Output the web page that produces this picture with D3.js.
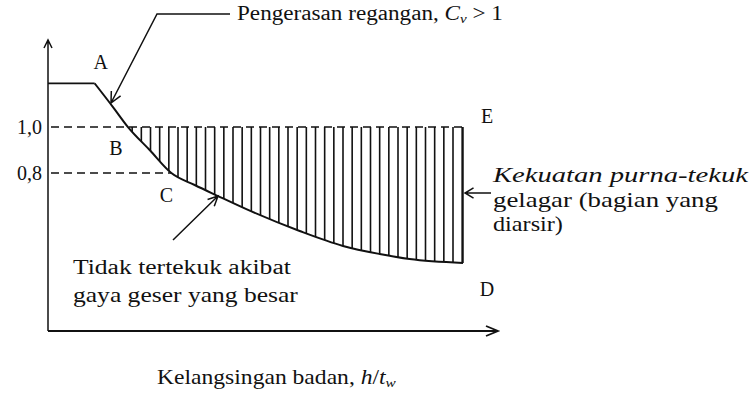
<!DOCTYPE html>
<html>
<head>
<meta charset="utf-8">
<script src="https://cdn.jsdelivr.net/npm/d3@7/dist/d3.min.js"></script>
<style>
  html, body { margin: 0; padding: 0; background: #fff; }
  svg { display: block; }
</style>
</head>
<body>
<svg id="chart" width="750" height="396" font-family="Liberation Serif"></svg>
<script>
// Shear strength vs. web slenderness (h/tw)
const plateauX = [0, 28];
const plateauY = [1.19, 1.19];
const curveX = [28, 39, 48, 61, 74, 88, 102, 119, 151, 177, 199, 217, 249];
const curveY = [1.19, 1.087, 1.0, 0.9, 0.8, 0.748, 0.70, 0.643, 0.548, 0.483, 0.448, 0.426, 0.409];
const yTicks = [1.0, 0.8];
const pointNames = ["A", "B", "C", "D", "E"];
const pointX = [28, 48, 74, 249, 249];
const pointY = [1.19, 1.0, 0.8, 0.409, 1.0];

const svg = d3.select("#chart");
const x = d3.scaleLinear().domain([0, 270]).range([48, 498]);
const y = d3.scaleLinear().domain([0.113, 1.37]).range([331, 42]);

const ink = "#111";
const serif = "Liberation Serif";
const plateau = plateauX.map((v, i) => [v, plateauY[i]]);
const curve = curveX.map((v, i) => [v, curveY[i]]);
const xEnd = curveX[curveX.length - 1];
const xB = pointX[1];

// clip region above the curve, used for the vertical hatching
const clipArea = d3.area()
  .x(d => x(d[0]))
  .y0(y.range()[1])
  .y1(d => y(d[1]))
  .curve(d3.curveMonotoneX);
svg.append("defs").append("clipPath").attr("id", "above-curve")
  .append("path").attr("d", clipArea(curve));

// hatching: post-buckling strength region
const hatchX = d3.range(xB + 2.5, xEnd, 5.5);
svg.append("g").attr("clip-path", "url(#above-curve)")
  .selectAll("line").data(hatchX).join("line")
  .attr("x1", d => x(d)).attr("x2", d => x(d))
  .attr("y1", y(1.0)).attr("y2", y.range()[0])
  .attr("stroke", ink).attr("stroke-width", 1.6);

// dashed reference lines
svg.append("line")
  .attr("x1", x(0) + 3).attr("x2", x(xEnd))
  .attr("y1", y(1.0)).attr("y2", y(1.0))
  .attr("stroke", ink).attr("stroke-width", 1.5).attr("stroke-dasharray", "8,5");
svg.append("line")
  .attr("x1", x(0) + 3).attr("x2", x(pointX[2]))
  .attr("y1", y(0.8)).attr("y2", y(0.8))
  .attr("stroke", ink).attr("stroke-width", 1.5).attr("stroke-dasharray", "8,5");

// right edge E-D
svg.append("line")
  .attr("x1", x(xEnd)).attr("x2", x(xEnd))
  .attr("y1", y(1.0)).attr("y2", y(pointY[3]))
  .attr("stroke", ink).attr("stroke-width", 1.5);

// strength curve
svg.append("path")
  .attr("d", d3.line().x(d => x(d[0])).y(d => y(d[1]))(plateau))
  .attr("fill", "none").attr("stroke", ink).attr("stroke-width", 1.6);
svg.append("path")
  .attr("d", d3.line().x(d => x(d[0])).y(d => y(d[1])).curve(d3.curveMonotoneX)(curve))
  .attr("fill", "none").attr("stroke", ink).attr("stroke-width", 2);

// axes with arrowheads
const x0 = x(0), yB = y.range()[0], yT = y.range()[1] - 2, xR = x.range()[1];
svg.append("path")
  .attr("d", `M${x0},${yB}V${yT}M${x0 - 4},${yT + 8}L${x0},${yT}L${x0 + 4},${yT + 8}`)
  .attr("fill", "none").attr("stroke", ink).attr("stroke-width", 1.5);
svg.append("path")
  .attr("d", `M${x0},${yB}H${xR}M${xR - 12},${yB - 5}L${xR},${yB}L${xR - 12},${yB + 5}`)
  .attr("fill", "none").attr("stroke", ink).attr("stroke-width", 1.8);

// y tick labels
const yAxis = d3.axisLeft(y).tickValues(yTicks).tickSize(0).tickPadding(6)
  .tickFormat(d => d3.format(".1f")(d).replace(".", ","));
const gy = svg.append("g").attr("transform", `translate(${x0},0)`).call(yAxis);
gy.attr("font-family", serif).attr("font-size", 20);
gy.select(".domain").remove();
gy.selectAll("text").attr("fill", ink);

// point letters
const letterOffset = { A: [6, -21], B: [-12, 21], C: [-5, 22], D: [24, 26], E: [24, -11] };
svg.append("g").selectAll("text").data(pointNames).join("text")
  .attr("x", (d, i) => x(pointX[i]) + letterOffset[d][0])
  .attr("y", (d, i) => y(pointY[i]) + letterOffset[d][1] + 7)
  .attr("text-anchor", "middle")
  .attr("font-size", 20).attr("fill", ink)
  .text(d => d);

// annotation arrows
function arrowHead(tx, ty, fx, fy, len, spread) {
  const a = Math.atan2(ty - fy, tx - fx);
  const p1 = [tx - len * Math.cos(a - spread), ty - len * Math.sin(a - spread)];
  const p2 = [tx - len * Math.cos(a + spread), ty - len * Math.sin(a + spread)];
  return `M${p1}L${tx},${ty}L${p2}`;
}
// strain hardening pointer
svg.append("path")
  .attr("d", `M230,14H157L111,103` + arrowHead(111, 103, 157, 14, 12, 0.45))
  .attr("fill", "none").attr("stroke", ink).attr("stroke-width", 1.5);
// pointer to curve below C
svg.append("path")
  .attr("d", `M173,240L218,196` + arrowHead(218, 196, 173, 240, 11, 0.45))
  .attr("fill", "none").attr("stroke", ink).attr("stroke-width", 1.5);
// pointer to hatched region
svg.append("path")
  .attr("d", `M491,193H465` + arrowHead(465, 193, 491, 193, 10, 0.55))
  .attr("fill", "none").attr("stroke", ink).attr("stroke-width", 1.5);

// stretch a text line horizontally to span the given width
function fitWidth(sel, left, width) {
  const w = sel.node().getComputedTextLength();
  const k = w > 0 ? width / w : 1;
  sel.attr("x", 0).attr("transform", `translate(${left},0) scale(${k},1)`);
  return sel;
}
function label(yPos) {
  return svg.append("text").attr("y", yPos).attr("font-size", 20).attr("fill", ink);
}

// texts
const t1 = label(20);
t1.append("tspan").text("Pengerasan regangan, ");
t1.append("tspan").attr("font-style", "italic").text("C");
t1.append("tspan").attr("font-style", "italic").attr("font-size", 13).attr("dy", 3).text("v");
t1.append("tspan").attr("dy", -3).text(" > 1");
fitWidth(t1, 237, 266);

fitWidth(label(182).attr("font-style", "italic").text("Kekuatan purna-tekuk"), 493, 255);
fitWidth(label(207).text("gelagar (bagian yang"), 493, 225);
fitWidth(label(231).text("diarsir)"), 493, 70);

fitWidth(label(274).text("Tidak tertekuk akibat"), 73, 218);
fitWidth(label(302).text("gaya geser yang besar"), 73, 225);

const t3 = label(384);
t3.append("tspan").text("Kelangsingan badan, ");
t3.append("tspan").attr("font-style", "italic").text("h");
t3.append("tspan").text("/");
t3.append("tspan").attr("font-style", "italic").text("t");
t3.append("tspan").attr("font-style", "italic").attr("font-size", 13).attr("dy", 3).text("w");
fitWidth(t3, 157, 239);
</script>
</body>
</html>
